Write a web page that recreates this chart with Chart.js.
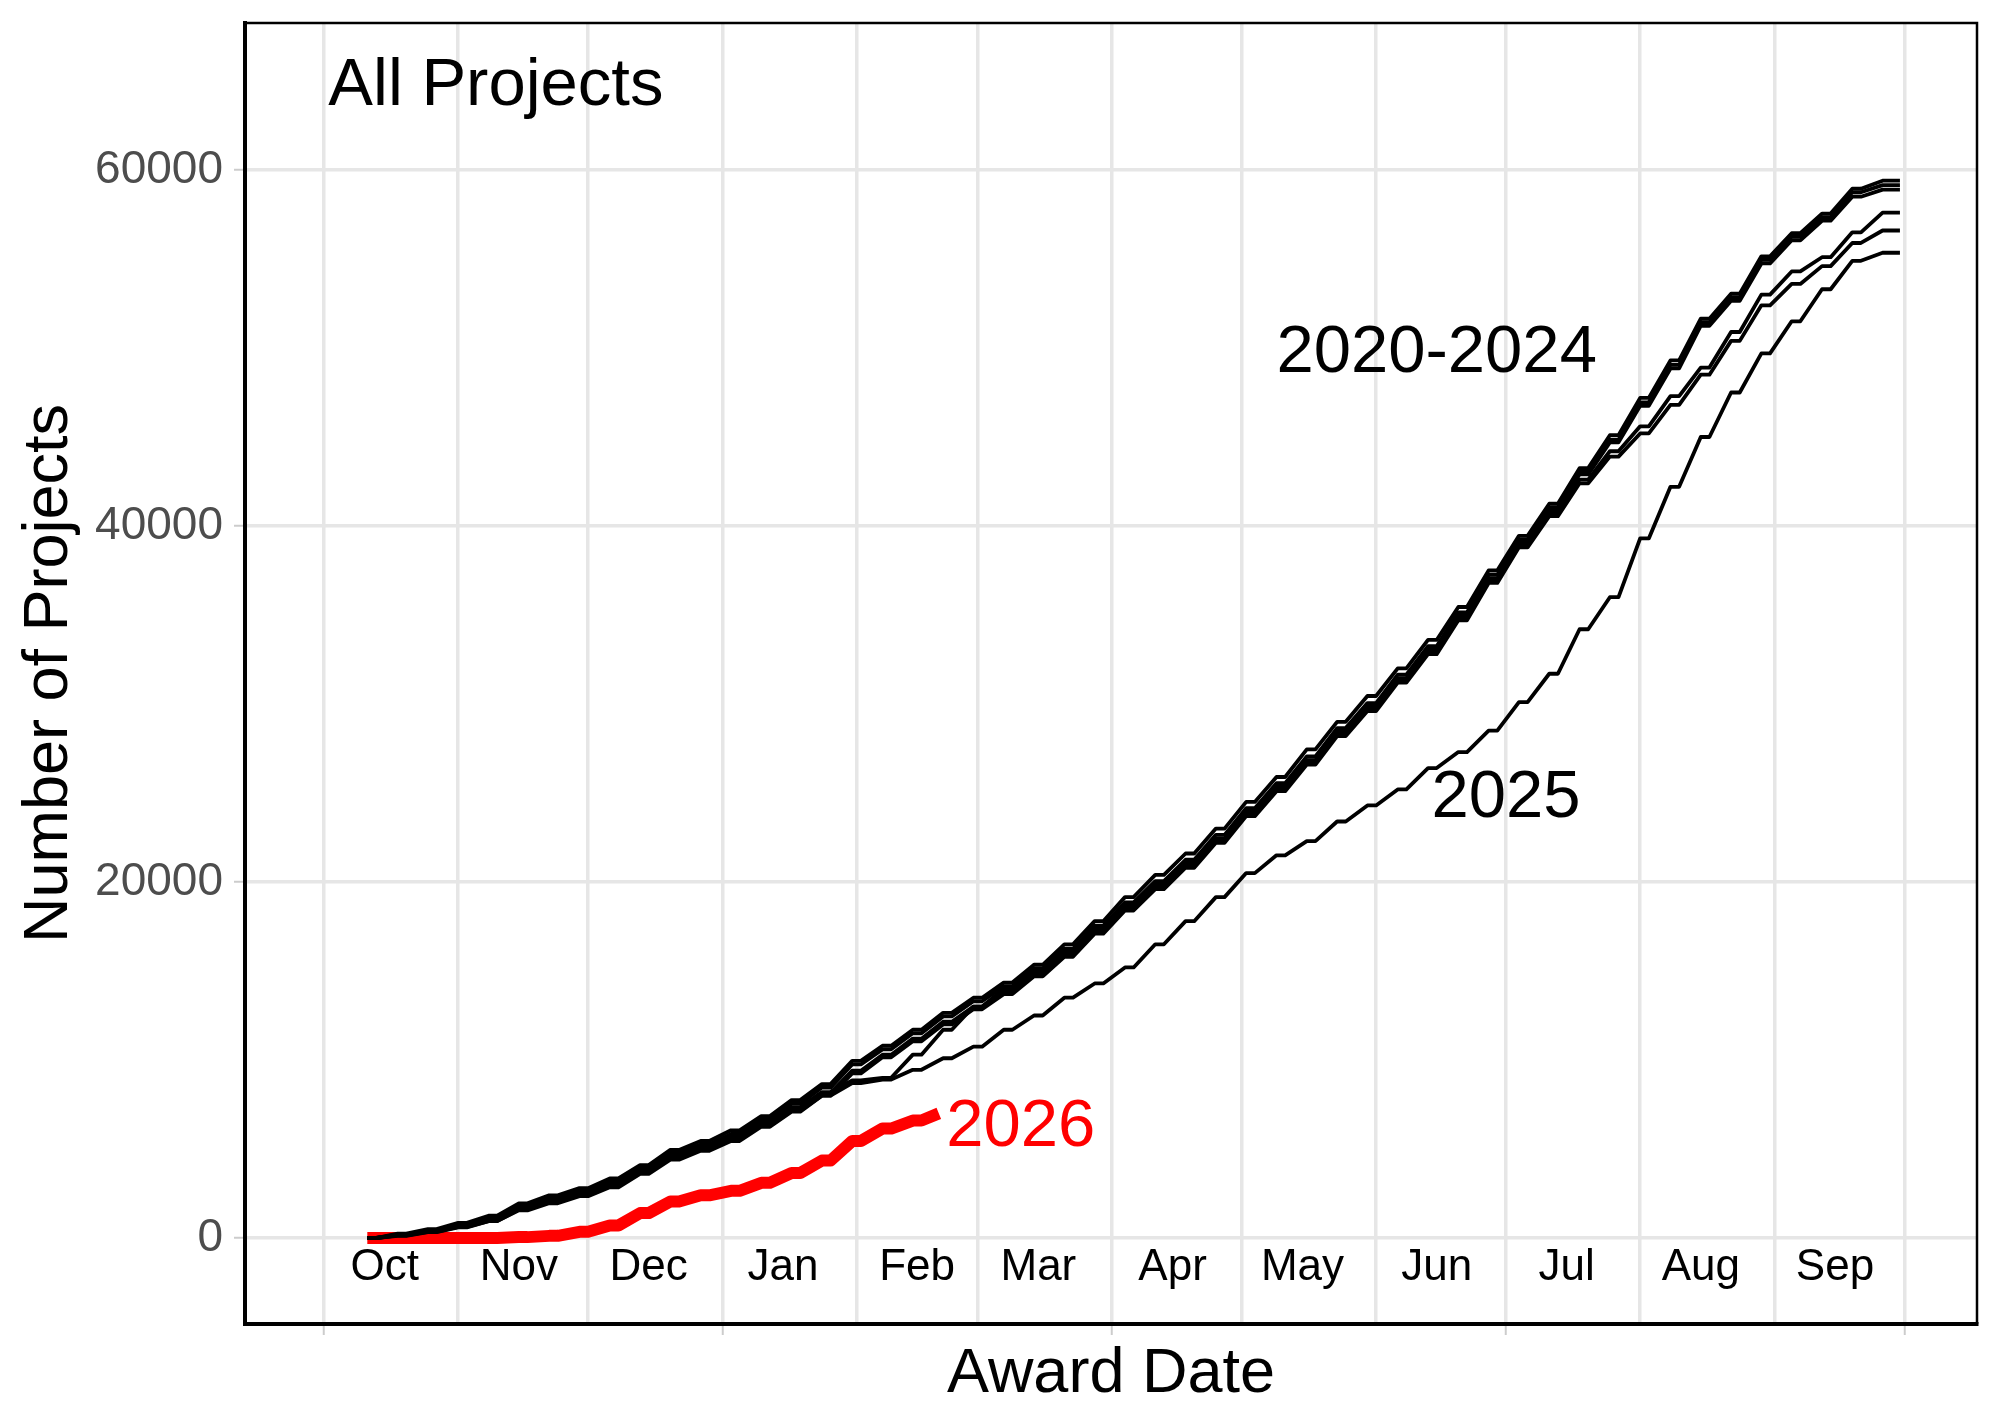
<!DOCTYPE html>
<html>
<head>
<meta charset="utf-8">
<script src="https://cdn.jsdelivr.net/npm/chart.js@4.4.1/dist/chart.umd.min.js"></script>
<style>
  html, body { margin: 0; padding: 0; background: #ffffff; }
  #wrap { width: 2000px; height: 1428px; }
</style>
</head>
<body>
<div id="wrap"><canvas id="c" width="2000" height="1428"></canvas></div>
<script>
// ---------------- DATA (x = day of fiscal year, Oct 1 = 0) ----------------
const weekDays = [10,17,24,31,38,45,52,59,66,73,80,87,94,101,108,115,122,129,136,143,150,157,164,171,178,185,192,199,206,213,220,227,234,241,248,255,262,269,276,283,290,297,304,311,318,325,332,339,346,353,360,364];

const fyA = [0,250,500,850,1250,1950,2400,2800,3350,4100,4950,5450,6050,6850,7750,8650,9950,10800,11700,12650,13500,14350,15350,16500,17800,19150,20400,21600,23000,24500,25900,27450,29000,30450,32000,33600,35450,37500,39450,41250,43250,45100,47200,49300,51650,53050,55150,56450,57550,58950,59400,59400];
const fyB = [0,200,430,750,1130,1820,2230,2650,3200,3950,4800,5250,5850,6650,7550,8450,9750,10600,11500,12450,13300,14150,15150,16250,17550,18850,20050,21250,22650,24150,25550,27050,28650,30050,31650,33250,35150,37250,39250,41050,43050,44850,46950,49050,51450,52850,54950,56250,57350,58750,59150,59150];
const fyC = [0,180,400,700,1080,1750,2150,2550,3100,3850,4650,5150,5700,6500,7350,8200,8850,9000,10300,11700,13000,14000,15000,16100,17400,18700,19900,21100,22450,23950,25350,26850,28450,29850,31450,33050,34950,37050,39100,40900,42900,44700,46750,48850,51250,52650,54750,56050,57150,58500,58900,58900];
const fyD = [0,150,370,650,1000,1650,2050,2450,2950,3700,4500,5000,5600,6350,7250,8150,9400,10300,11200,12150,13000,13850,14850,15950,17250,18550,19750,20950,22350,23850,25250,26750,28300,29700,31300,32900,34850,36950,38950,40700,42600,44200,45600,47300,48900,50900,53000,54300,55100,56500,57600,57600];
const fyE = [0,120,330,600,950,1550,1950,2350,2850,3600,4400,4900,5450,6250,7100,8000,9250,10150,11050,12000,12850,13700,14700,15800,17100,18400,19600,20800,22200,23700,25100,26600,28200,29600,31200,32800,34700,36800,38800,40550,42400,43900,45200,46800,48500,50400,52400,53600,54600,55900,56600,56600];
const fy2025 = [0,150,350,620,950,1600,2000,2400,2950,3700,4500,5000,5550,6300,7150,8000,8700,8900,9450,10100,10750,11700,12500,13500,14300,15200,16500,17800,19150,20500,21500,22300,23400,24300,25200,26400,27300,28500,30100,31700,34200,36000,39300,42200,45000,47500,49700,51500,53300,54900,55350,55350];

const days2026 = [10,17,24,31,38,45,52,59,66,73,80,87,94,101,108,115,122,129,136,142];
const fy2026 = [0,0,0,0,0,50,120,350,700,1400,2050,2400,2650,3100,3650,4350,5450,6150,6600,7000];

const monthStartDays = [0,31,61,92,123,151,182,212,243,273,304,335,365];
const quarterDays = [0,92,182,273,365];
const monthLabels = ['Oct','Nov','Dec','Jan','Feb','Mar','Apr','May','Jun','Jul','Aug','Sep'];
const monthLabelDays = [14,45,75,106,137,165,196,226,257,287,318,349];
const monthLabelValue = -1500;
const yTickValues = [0,20000,40000,60000];

const noteTexts = ['All Projects','2020-2024','2025','2026'];
const noteDays = [1,257,273,143.7];
const noteValues = [65000,50000,25000,6500];

// weekly totals are held flat over the weekend (2 days) before rising again
const weekendHold = 2;

// ---------------- CHART ----------------
const FONT = '"Liberation Sans", Arial, Helvetica, sans-serif';
Chart.defaults.font.family = FONT;

function weeklySteps(xs, ys) {
  const out = [];
  xs.forEach((d, i) => {
    out.push({x: d, y: ys[i]});
    if (i < xs.length - 1) out.push({x: Math.min(d + weekendHold, xs[i + 1]), y: ys[i]});
  });
  return out;
}

const blackSeries = [fyA, fyB, fyC, fyD, fyE];
const datasets = blackSeries.map((s, i) => ({
  label: 'FY' + (2020 + i),
  data: weeklySteps(weekDays, s),
  borderColor: '#000000',
  borderWidth: 3.8
}));
datasets.push({label: 'FY2025', data: weeklySteps(weekDays, fy2025), borderColor: '#000000', borderWidth: 3.8});
datasets.push({label: 'FY2026', data: weeklySteps(days2026, fy2026), borderColor: '#ff0000', borderWidth: 12});

const noteStyles = [
  {color: '#000000', align: 'left', size: 67},
  {color: '#000000', align: 'center', size: 67},
  {color: '#000000', align: 'center', size: 67},
  {color: '#ff0000', align: 'left', size: 67}
];

const annotations = {
  id: 'annotations',
  afterDatasetsDraw(chart) {
    const {ctx, scales: {x, y}, chartArea: a} = chart;
    ctx.save();
    ctx.fillStyle = '#000000';
    ctx.textAlign = 'center';
    ctx.textBaseline = 'alphabetic';
    ctx.font = '44px ' + FONT;
    monthLabels.forEach((m, i) => {
      ctx.fillText(m, x.getPixelForValue(monthLabelDays[i]), y.getPixelForValue(monthLabelValue) + 0.358 * 44);
    });
    noteTexts.forEach((t, i) => {
      const st = noteStyles[i];
      ctx.font = st.size + 'px ' + FONT;
      ctx.fillStyle = st.color;
      ctx.textAlign = st.align;
      ctx.fillText(t, x.getPixelForValue(noteDays[i]), y.getPixelForValue(noteValues[i]) + 0.358 * st.size);
    });
    ctx.strokeStyle = '#000000';
    ctx.lineWidth = 2.5;
    ctx.beginPath();
    ctx.moveTo(a.left, a.top);
    ctx.lineTo(a.right, a.top);
    ctx.lineTo(a.right, a.bottom);
    ctx.stroke();
    ctx.restore();
  }
};

new Chart(document.getElementById('c'), {
  type: 'line',
  data: {datasets},
  options: {
    responsive: false,
    animation: false,
    devicePixelRatio: 1,
    layout: {padding: {top: 23, right: 23, left: 0, bottom: 0}},
    plugins: {legend: {display: false}, tooltip: {enabled: false}},
    elements: {
      point: {radius: 0, hoverRadius: 0},
      line: {tension: 0, borderCapStyle: 'butt', borderJoinStyle: 'round', fill: false}
    },
    scales: {
      x: {
        type: 'linear',
        position: 'bottom',
        min: -18.25,
        max: 381.8,
        afterBuildTicks: s => { s.ticks = monthStartDays.map(v => ({value: v})); },
        afterFit: s => { s.height = 104; s.paddingLeft = 0; s.paddingRight = 0; },
        ticks: {autoSkip: false, maxRotation: 0, callback: () => '', font: {size: 10}},
        grid: {
          color: '#e6e6e6',
          lineWidth: 3.5,
          drawTicks: true,
          tickLength: 11,
          tickWidth: 2,
          tickColor: c => (c.tick && quarterDays.includes(c.tick.value)) ? '#cccccc' : 'rgba(0,0,0,0)'
        },
        border: {display: true, color: '#000000', width: 4},
        title: {display: true, text: 'Award Date', color: '#000000', font: {size: 63, family: FONT}, padding: {top: 0, bottom: 16}}
      },
      y: {
        type: 'linear',
        position: 'left',
        min: -4831,
        max: 68258,
        afterBuildTicks: s => { s.ticks = yTickValues.map(v => ({value: v})); },
        afterFit: s => { s.width = 245; s.paddingTop = 0; s.paddingBottom = 0; },
        ticks: {color: '#4d4d4d', font: {size: 46, family: FONT}, padding: 11, callback: v => String(v)},
        grid: {color: '#e6e6e6', lineWidth: 3.5, drawTicks: true, tickLength: 11, tickWidth: 2, tickColor: '#cccccc'},
        border: {display: true, color: '#000000', width: 4},
        title: {display: true, text: 'Number of Projects', color: '#000000', font: {size: 63, family: FONT}, padding: {top: 12, bottom: 0}}
      }
    }
  },
  plugins: [annotations]
});
</script>
</body>
</html>
